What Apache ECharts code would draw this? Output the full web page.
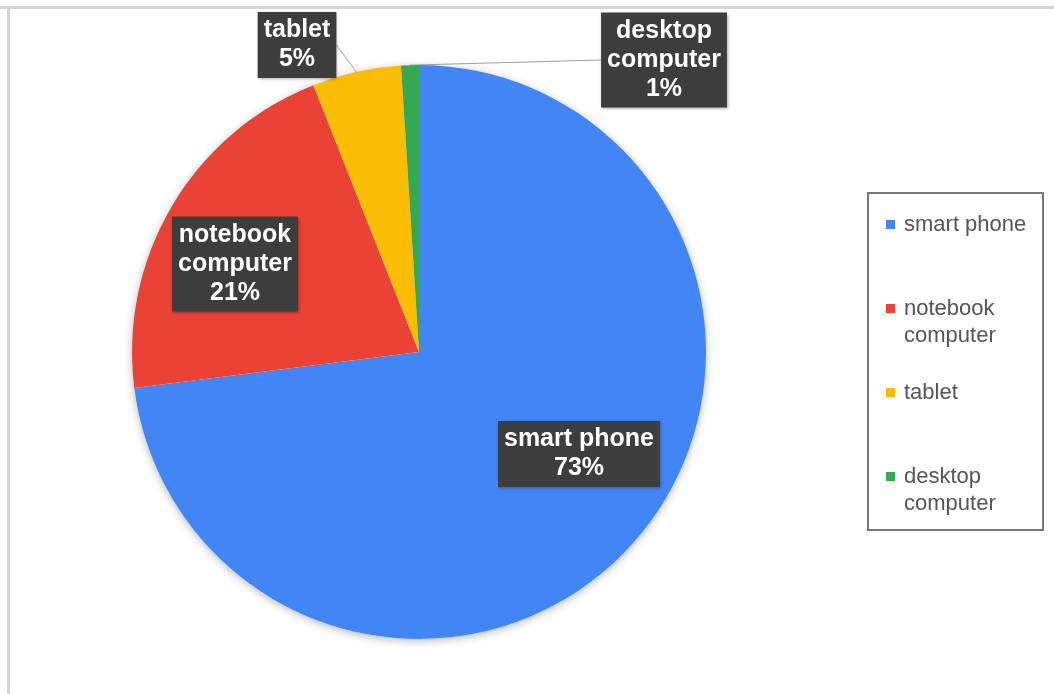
<!DOCTYPE html>
<html>
<head>
<meta charset="utf-8">
<script src="https://cdn.jsdelivr.net/npm/echarts@6/dist/echarts.min.js"></script>
<style>
  html, body { margin: 0; padding: 0; background: #fff; }
  #chart { width: 1054px; height: 694px; }
</style>
</head>
<body>
<div id="chart"></div>
<script>
// Device share by type (percent)
const categories = ['smart phone', 'notebook computer', 'tablet', 'desktop computer'];
const shares = [73, 21, 5, 1];

// Presentation settings
const sliceColors = ['#4285F4', '#EA4335', '#FBBC04', '#34A853'];
const labelSpots = [[579, 454], [235, 264], [297, 45], [664, 60]]; // label box centres, px
const outsideLabel = [false, false, true, true];
const LEGEND_LINE = 27;

// Two-word names that are long get split onto two lines
const wrapName = n => (n.length > 12 ? n.replace(' ', '\n') : n);
const isWrapped = n => wrapName(n).includes('\n');

const chart = echarts.init(document.getElementById('chart'), null, { renderer: 'canvas' });

chart.setOption({
  animation: false,
  backgroundColor: '#ffffff',
  graphic: [
    { type: 'line', silent: true, shape: { x1: 0, y1: 7.5, x2: 1054, y2: 7.5 },
      style: { stroke: '#d6d6d6', lineWidth: 3 } },
    { type: 'line', silent: true, shape: { x1: 8.5, y1: 6, x2: 8.5, y2: 694 },
      style: { stroke: '#d6d6d6', lineWidth: 3 } },
    { type: 'rect', silent: true, shape: { x: 868, y: 193, width: 175, height: 337 },
      style: { fill: 'none', stroke: '#777777', lineWidth: 2 } }
  ],
  legend: {
    orient: 'vertical',
    left: 886,
    top: 184,
    padding: 0,
    itemGap: 3,
    itemWidth: 9,
    itemHeight: 9,
    icon: 'rect',
    selectedMode: false,
    // a blank leading line keeps the first text line level with the swatch
    formatter: n => (isWrapped(n) ? '\n' + wrapName(n) : n),
    textStyle: {
      color: '#555555',
      fontFamily: 'Liberation Sans',
      fontSize: 22,
      lineHeight: LEGEND_LINE
    },
    // every entry padded to the same three-line height
    data: categories.map(name => ({
      name,
      textStyle: {
        padding: isWrapped(name)
          ? [0, 0, 0, 4]
          : [LEGEND_LINE, 0, LEGEND_LINE, 4]
      }
    }))
  },
  series: [
    {
      // soft drop shadow under the disc
      type: 'pie',
      silent: true,
      z: 1,
      center: [419, 352],
      radius: 287,
      data: [{ value: 1, name: 'shadow' }],
      itemStyle: {
        color: '#ffffff',
        shadowBlur: 8,
        shadowColor: 'rgba(0,0,0,0.28)',
        shadowOffsetY: 2
      },
      label: { show: false },
      labelLine: { show: false },
      emphasis: { disabled: true }
    },
    {
      type: 'pie',
      z: 2,
      center: [419, 352],
      radius: 287,
      startAngle: 90,
      clockwise: true,
      avoidLabelOverlap: false,
      data: categories.map((name, i) => ({
        name,
        value: shares[i],
        itemStyle: { color: sliceColors[i] },
        label: { position: outsideLabel[i] ? 'outside' : 'inside' },
        labelLine: { show: outsideLabel[i] }
      })),
      label: {
        show: true,
        formatter: p => wrapName(p.name) + '\n' + Math.round(p.percent) + '%',
        color: '#ffffff',
        fontFamily: 'Liberation Sans',
        fontWeight: 'bold',
        fontSize: 25,
        lineHeight: 29,
        align: 'center',
        backgroundColor: '#3d3d3d',
        padding: [4, 6],
        shadowColor: 'rgba(0,0,0,0.35)',
        shadowBlur: 3,
        shadowOffsetX: 1,
        shadowOffsetY: 1
      },
      labelLine: {
        length: 10,
        length2: 0,
        lineStyle: { color: '#a0a0a0', width: 1 }
      },
      labelLayout: p => ({
        x: labelSpots[p.dataIndex][0],
        y: labelSpots[p.dataIndex][1],
        align: 'center',
        verticalAlign: 'middle'
      }),
      emphasis: { disabled: true }
    }
  ]
});
</script>
</body>
</html>
